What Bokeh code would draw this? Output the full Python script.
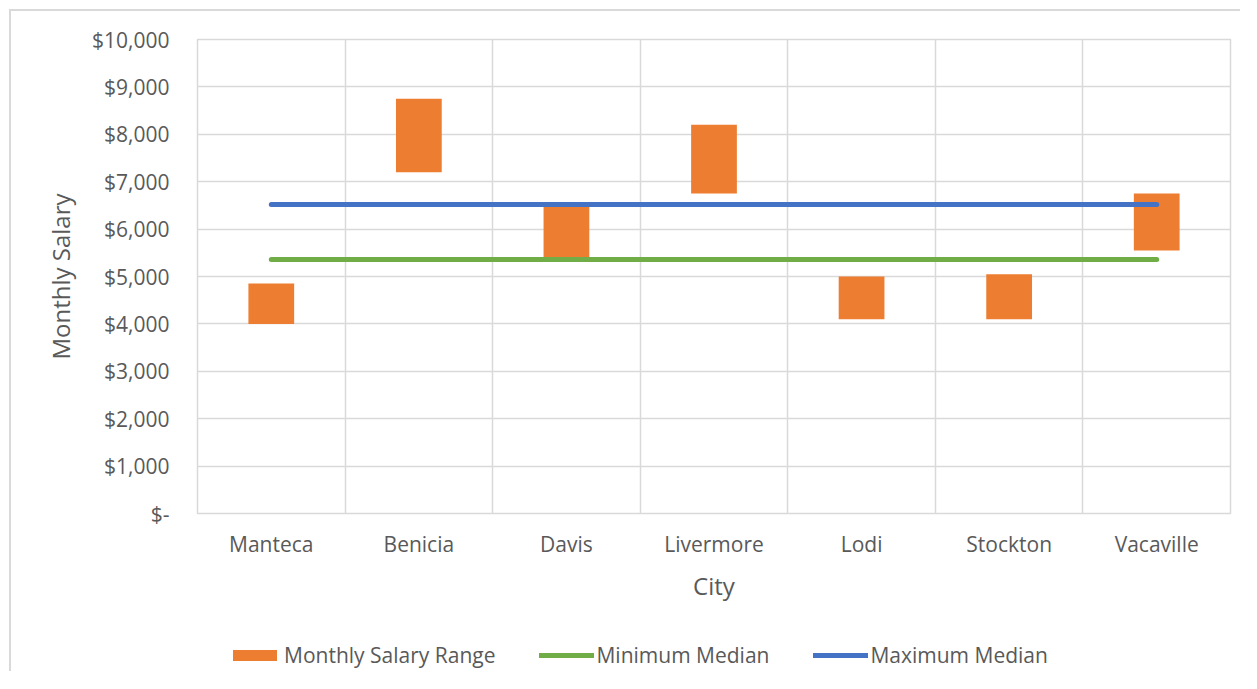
from bokeh.plotting import figure
from bokeh.layouts import column
from bokeh.models import FixedTicker, Legend, LegendItem, Range1d
from bokeh.embed import file_html
from bokeh.resources import INLINE

cities = ["Manteca", "Benicia", "Davis", "Livermore", "Lodi", "Stockton", "Vacaville"]
salary_low = [4000, 7200, 5400, 6750, 4100, 4100, 5550]
salary_high = [4850, 8750, 6500, 8200, 5000, 5050, 6750]
min_median = [5360, 5360, 5360, 5360, 5360, 5360, 5360]
max_median = [6520, 6520, 6520, 6520, 6520, 6520, 6520]
y_ticks = [0, 1000, 2000, 3000, 4000, 5000, 6000, 7000, 8000, 9000, 10000]
y_tick_labels = ["$-", "$1,000", "$2,000", "$3,000", "$4,000", "$5,000",
                 "$6,000", "$7,000", "$8,000", "$9,000", "$10,000"]
series_names = ["Monthly Salary Range", "Minimum Median", "Maximum Median"]

ORANGE = "#ED7D31"
GREEN = "#70AD47"
BLUE = "#4472C4"
GRID = "#D9D9D9"
TEXT = "#595959"
FONT = "Open Sans"

n = len(cities)
xs = [i + 0.5 for i in range(n)]

p = figure(width=1231, height=602,
           x_range=Range1d(0, n), y_range=Range1d(0, y_ticks[-1]),
           output_backend="svg", toolbar_location=None,
           min_border_left=186, min_border_right=12,
           min_border_top=28, min_border_bottom=100)
p.margin = (9, 0, 0, 9)
p.styles = {"border-left": "2px solid #D9D9D9", "border-top": "2px solid #D9D9D9"}
p.background_fill_color = "white"
p.border_fill_color = "white"
p.outline_line_color = GRID
p.outline_line_width = 1.5

p.vbar(x=xs, width=0.31, bottom=salary_low, top=salary_high,
       fill_color=ORANGE, line_color=None)
p.line(xs, min_median, line_color=GREEN, line_width=5, line_cap="round")
p.line(xs, max_median, line_color=BLUE, line_width=5, line_cap="round")

# grids
p.xgrid.ticker = FixedTicker(ticks=list(range(n + 1)))
p.ygrid.ticker = FixedTicker(ticks=y_ticks)
for g in (p.xgrid, p.ygrid):
    g.grid_line_color = GRID
    g.grid_line_width = 1.5

# x axis
p.xaxis.ticker = FixedTicker(ticks=xs)
p.xaxis.major_label_overrides = {x: c for x, c in zip(xs, cities)}
p.xaxis.axis_label = "City"
p.xaxis.major_label_standoff = 16
p.xaxis.axis_label_standoff = 8

# y axis
p.yaxis.ticker = FixedTicker(ticks=y_ticks)
p.yaxis.major_label_overrides = {t: l for t, l in zip(y_ticks, y_tick_labels)}
p.yaxis.axis_label = "Monthly Salary"
p.yaxis.major_label_standoff = 28
p.yaxis.axis_label_standoff = 12

for ax in (p.xaxis[0], p.yaxis[0]):
    ax.axis_line_color = None
    ax.major_tick_line_color = None
    ax.minor_tick_line_color = None
    ax.major_tick_out = 0
    ax.major_tick_in = 0
    ax.major_label_text_font = FONT
    ax.major_label_text_font_size = "21px"
    ax.major_label_text_color = TEXT
    ax.axis_label_text_font = FONT
    ax.axis_label_text_font_size = "24px"
    ax.axis_label_text_color = TEXT
    ax.axis_label_text_font_style = "normal"

# legend strip below the chart (its renderers are hidden; only the legend shows)
lg = figure(width=1231, height=60, x_range=Range1d(0, 1), y_range=Range1d(0, 1),
            output_backend="svg", toolbar_location=None,
            x_axis_location=None, y_axis_location=None,
            min_border_left=186, min_border_right=12,
            min_border_top=0, min_border_bottom=0)
lg.margin = (0, 0, 0, 9)
lg.styles = {"border-left": "2px solid #D9D9D9"}
lg.grid.visible = False
lg.outline_line_color = None
lg.background_fill_color = "white"
lg.border_fill_color = "white"
r_bar = lg.vbar(x=xs, width=0.31, bottom=salary_low, top=salary_high,
                fill_color=ORANGE, line_color=None, visible=False)
r_min = lg.line(xs, min_median, line_color=GREEN, line_width=5, line_cap="round",
                visible=False)
r_max = lg.line(xs, max_median, line_color=BLUE, line_width=5, line_cap="round",
                visible=False)

legend = Legend(items=[
    LegendItem(label=series_names[0], renderers=[r_bar]),
    LegendItem(label=series_names[1], renderers=[r_min]),
    LegendItem(label=series_names[2], renderers=[r_max]),
], orientation="horizontal", location=(30, 2))
legend.border_line_color = None
legend.background_fill_alpha = 0
legend.inactive_fill_alpha = 0
legend.padding = 0
legend.margin = 0
legend.spacing = 44
legend.glyph_width = 55
legend.glyph_height = 14
legend.label_standoff = 2
legend.label_text_font = FONT
legend.label_text_font_size = "21px"
legend.label_text_color = TEXT
lg.add_layout(legend, "center")

layout = column(p, lg, spacing=0)
open("out.html", "w").write(file_html(layout, INLINE))
